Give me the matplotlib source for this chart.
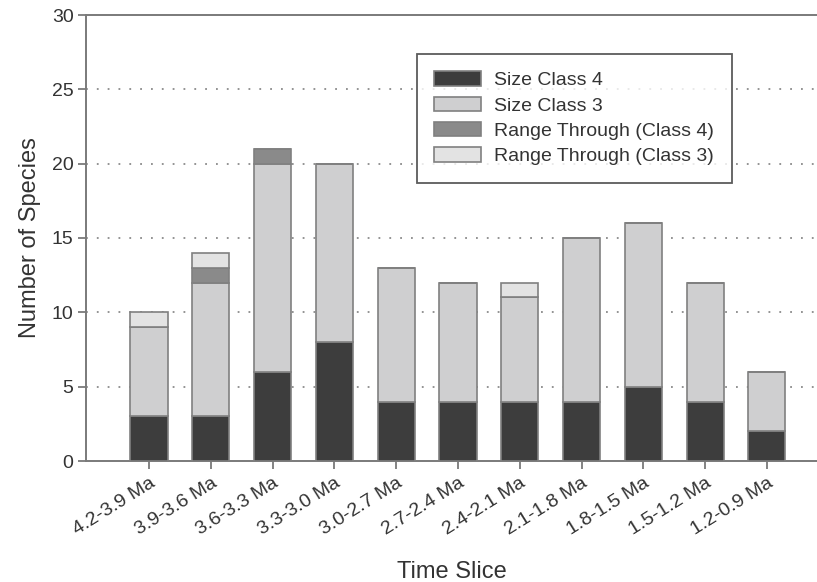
import numpy as np
import matplotlib
matplotlib.use("Agg")
import matplotlib.pyplot as plt

plt.rcParams['font.family'] = ['Liberation Sans', 'DejaVu Sans']

# time slices and species counts per category
slices = ['4.2-3.9 Ma', '3.9-3.6 Ma', '3.6-3.3 Ma', '3.3-3.0 Ma', '3.0-2.7 Ma',
          '2.7-2.4 Ma', '2.4-2.1 Ma', '2.1-1.8 Ma', '1.8-1.5 Ma', '1.5-1.2 Ma',
          '1.2-0.9 Ma']
class4 = [3, 3, 6, 8, 4, 4, 4, 4, 5, 4, 2]
class3 = [6, 9, 14, 12, 9, 8, 7, 11, 11, 8, 4]
range4 = [0, 1, 1, 0, 0, 0, 0, 0, 0, 0, 0]
range3 = [1, 1, 0, 0, 0, 0, 1, 0, 0, 0, 0]

series = [
    ('Size Class 4', class4, '#3d3d3d'),
    ('Size Class 3', class3, '#cfcfd0'),
    ('Range Through (Class 4)', range4, '#8a8a8a'),
    ('Range Through (Class 3)', range3, '#e3e3e3'),
]

txt = '#333333'
axcol = '#7a7a7a'

fig = plt.figure(figsize=(8.17, 5.82), dpi=100)
ax = fig.add_axes([86/817, 121/582, 1 - 86/817, 446/582])

x = np.arange(len(slices))
bottom = np.zeros(len(slices))
for name, vals, col in series:
    vals = np.array(vals, dtype=float)
    ax.bar(x, vals, 0.6, bottom=bottom, color=col, edgecolor='#808080',
           linewidth=1.2, label=name, zorder=3)
    bottom += vals

# dotted gridlines
for yv in [5, 10, 15, 20, 25]:
    ax.axhline(yv, color='#8a8a8a', linestyle=(0, (1, 5)), linewidth=1.3, zorder=1)

ax.set_xlim(-1.02, 10.81)
ax.set_ylim(0, 30)
ax.set_yticks([0, 5, 10, 15, 20, 25, 30])
ax.set_xticks(x)
ax.set_xticklabels(slices, rotation=32, ha='right', rotation_mode='anchor')

ax.spines['right'].set_visible(False)
for s in ['left', 'bottom', 'top']:
    ax.spines[s].set_color(axcol)
    ax.spines[s].set_linewidth(1.4)
ax.tick_params(axis='both', colors=axcol, length=6, width=1.3, labelsize=14,
               labelcolor=txt)
ax.tick_params(axis='y', pad=3)
ax.tick_params(axis='x', pad=4)

ax.set_xlabel('Time Slice', fontsize=17, color=txt, labelpad=16)
ax.set_ylabel('Number of Species', fontsize=17, color=txt, labelpad=8)

leg = ax.legend(loc='upper left', bbox_to_anchor=(417/817, 1 - 54/582),
                bbox_transform=fig.transFigure, borderaxespad=0,
                fontsize=14, fancybox=False, frameon=True,
                handlelength=2.4, handleheight=0.75, labelspacing=0.38,
                borderpad=0.9, handletextpad=0.67)
leg.get_frame().set_edgecolor('#333333')
leg.get_frame().set_linewidth(1.3)
for t in leg.get_texts():
    t.set_color(txt)

fig.savefig('out.png', dpi=100)
